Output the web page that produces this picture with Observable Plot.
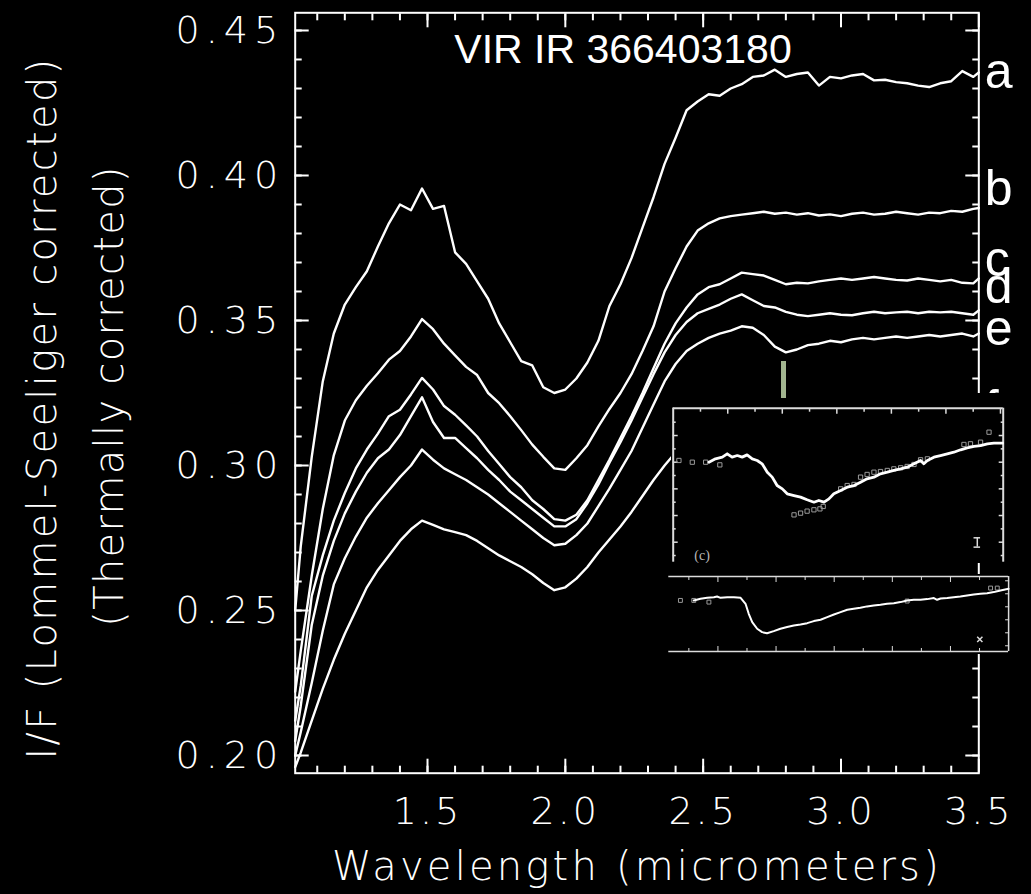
<!DOCTYPE html>
<html><head><meta charset="utf-8">
<script src="https://cdn.jsdelivr.net/npm/d3@7"></script>
<script src="https://cdn.jsdelivr.net/npm/@observablehq/plot@0.6"></script>
<style>
html,body{margin:0;padding:0;background:#000;}
#wrap{position:relative;width:1031px;height:894px;background:#000;overflow:hidden;}
#wrap > svg{position:absolute;}
[aria-label="y-axis tick label"]{letter-spacing:6px;font-weight:200;}
[aria-label="x-axis tick label"]{letter-spacing:3px;font-weight:200;}
#greenbar{position:absolute;left:781px;top:361px;width:5px;height:37px;background:#a2b58f;}
</style></head>
<body><div id="wrap"></div>
<script>
// ---------- main chart data ----------
const wavelength = [1.02,1.04,1.08,1.12,1.16,1.20,1.24,1.28,1.32,1.36,1.40,1.44,1.48,1.52,1.56,1.60,
  1.64,1.68,1.72,1.76,1.80,1.84,1.88,1.92,1.96,2.00,2.04,2.08,2.12,2.16,2.20,2.24,
  2.28,2.32,2.36,2.40,2.44,2.48,2.52,2.56,2.60,2.64,2.68,2.72,2.76,2.80,2.84,2.88,
  2.92,2.96,3.00,3.04,3.08,3.12,3.16,3.20,3.24,3.28,3.32,3.36,3.40,3.44,3.48,3.50];

const seriesA = [.250,.272,.303,.329,.3455,.3555,.3615,.3670,
  .3755,.3835,.3900,.3880,.3955,.3885,.3895,.3735,
  .3695,.3635,.3575,.3490,.3425,.3360,.3345,.3270,
  .3250,.3262,.3300,.3355,.3430,.3550,.3625,.3715,
  .3820,.3925,.4040,.4130,.4225,.4255,.4280,.4275,
  .4300,.4315,.4340,.4345,.4365,.4340,.4350,.4355,
  .4310,.4340,.4335,.4345,.4350,.4328,.4330,.4322,
  .4318,.4310,.4305,.4318,.4325,.4360,.4340,.4355];
const seriesB = [.222,.236,.262,.285,.3035,.3155,.3225,.3275,
  .3318,.3365,.3395,.3445,.3505,.3470,.3420,.3380,
  .3340,.3312,.3250,.3215,.3170,.3122,.3072,.3030,
  .2990,.2985,.3025,.3070,.3135,.3195,.3250,.3315,
  .3395,.3480,.3600,.3680,.3755,.3810,.3835,.3852,
  .3860,.3865,.3870,.3875,.3868,.3872,.3865,.3870,
  .3862,.3866,.3860,.3868,.3872,.3865,.3868,.3875,
  .3870,.3865,.3872,.3870,.3878,.3875,.3885,.3888];
const seriesC = [.212,.224,.255,.269,.281,.2905,.2990,.3055,
  .3110,.3170,.3192,.3245,.3302,.3262,.3205,.3175,
  .3138,.3100,.3050,.3005,.2960,.2925,.2880,.2850,
  .2815,.2810,.2830,.2880,.2950,.3020,.3095,.3170,
  .3250,.3335,.3420,.3490,.3545,.3590,.3615,.3625,
  .3645,.3665,.3660,.3655,.3640,.3625,.3630,.3628,
  .3635,.3640,.3645,.3640,.3645,.3650,.3645,.3640,
  .3638,.3645,.3640,.3635,.3640,.3630,.3628,.3645];
const seriesD = [.205,.217,.245,.262,.274,.2835,.2910,.2975,
  .3025,.3055,.3105,.3170,.3235,.3150,.3095,.3095,
  .3060,.3025,.2985,.2950,.2910,.2880,.2850,.2820,
  .2790,.2790,.2815,.2870,.2935,.3010,.3080,.3155,
  .3235,.3315,.3390,.3450,.3495,.3525,.3540,.3555,
  .3575,.3590,.3570,.3550,.3545,.3530,.3520,.3515,
  .3520,.3525,.3520,.3518,.3525,.3530,.3525,.3528,
  .3530,.3525,.3530,.3528,.3530,.3525,.3520,.3535];
const seriesE = [.200,.208,.225,.243,.259,.2680,.2755,.2820,
  .2870,.2915,.2960,.3000,.3055,.3020,.2990,.2970,
  .2950,.2925,.2900,.2870,.2840,.2810,.2780,.2750,
  .2725,.2730,.2760,.2800,.2860,.2920,.2985,.3050,
  .3130,.3210,.3290,.3350,.3395,.3420,.3440,.3455,
  .3465,.3480,.3475,.3450,.3410,.3390,.3400,.3415,
  .3420,.3430,.3425,.3435,.3440,.3435,.3440,.3445,
  .3440,.3445,.3450,.3445,.3450,.3455,.3445,.3455];
const seriesF = [.196,.201,.212,.223,.233,.2420,.2500,.2580,
  .2640,.2690,.2740,.2780,.2810,.2795,.2780,.2770,
  .2760,.2740,.2715,.2690,.2670,.2650,.2625,.2595,
  .2570,.2580,.2610,.2650,.2700,.2745,.2790,.2840,
  .2895,.2950,.3000,.3045,.3080,.3105,.3120,.3130,
  .3135,.3140,.3138,.3135,.3130,.3128,.3130,.3132,
  .3130,.3128,.3130,.3132,.3135,.3132,.3130,.3135,
  .3132,.3135,.3138,.3135,.3138,.3140,.3138,.3140];

const seriesNames = ["a","b","c","d","e","f"];
const seriesValues = [seriesA, seriesB, seriesC, seriesD, seriesE, seriesF];
const labelBaseline = [0.4303, 0.3897, 0.3655, 0.3559, 0.3414, 0.3141];

const xMajorTicks = [1.5, 2.0, 2.5, 3.0, 3.5];
const xTickLabels = ["1.5","2.0","2.5","3.0","3.5"];
const yMajorTicks = [0.20, 0.25, 0.30, 0.35, 0.40, 0.45];
const yTickLabels = ["0.20","0.25","0.30","0.35","0.40","0.45"];
const xMinorTicks = d3.range(11, 35).map(d => d / 10);
const yMinorTicks = d3.range(20, 46).map(d => d / 100);

const titleText = "VIR IR 366403180";
const xTitle = "Wavelength (micrometers)";
const yTitle1 = "I/F (Lommel-Seeliger corrected)";
const yTitle2 = "(Thermally corrected)";

// ---------- inset (pasted figure) data ----------
const insetTopCurveX = [1.31,1.55,1.80,1.98,2.16,2.35,2.53,2.71,2.90,3.08,3.26,3.45,3.63,3.81,4.00,4.18,4.43,4.67,4.91,5.16,5.34,5.53,5.71,5.89,6.14,6.38,6.63,6.87,7.11,7.36,7.60,7.85,8.09,8.34,8.58,8.83,9.07,9.19,9.32,9.56,9.80,10.05,10.29,10.54,10.78,11.03,11.27,11.52,11.76,12.07];
const insetTopCurveY = [8.0,8.25,8.38,8.63,8.38,8.5,8.38,8.55,8.25,8.13,7.88,7.25,6.88,6.25,6.0,5.63,5.5,5.38,5.18,5.0,5.13,5.0,5.25,5.63,5.88,6.13,6.25,6.5,6.75,6.88,7.13,7.25,7.38,7.5,7.63,7.88,8.13,7.88,8.13,8.38,8.5,8.63,8.75,8.93,9.08,9.18,9.25,9.38,9.43,9.43];
const insetTopPointsX = [0.21,0.70,1.19,1.71,4.43,4.67,4.91,5.16,5.38,5.50,6.14,6.38,6.63,6.87,7.11,7.36,7.60,7.85,8.09,8.34,8.58,8.83,9.07,9.32,10.66,10.90,11.27,11.58];
const insetTopPointsY = [8.13,8.0,8.0,7.8,4.05,4.18,4.33,4.43,4.5,4.68,6.0,6.25,6.33,6.88,7.08,7.25,7.3,7.38,7.5,7.58,7.68,7.83,8.18,8.25,9.33,9.38,9.5,10.25];
const insetBottomCurveX = [1.17,1.40,1.63,1.86,1.97,2.09,2.32,2.55,2.78,2.95,3.06,3.18,3.35,3.52,3.69,3.92,4.15,4.38,4.61,4.84,5.07,5.30,5.53,5.76,5.99,6.22,6.45,6.67,6.90,7.13,7.36,7.59,7.82,8.05,8.28,8.51,8.74,8.97,9.20,9.43,9.54,9.66,9.89,10.11,10.34,10.57,10.80,11.03,11.26,11.49,11.72,12.0];
const insetBottomCurveY = [4.49,4.62,4.69,4.74,4.79,4.69,4.74,4.74,4.69,4.23,3.46,2.82,2.31,2.05,1.97,2.13,2.31,2.44,2.56,2.64,2.74,2.90,3.0,3.21,3.41,3.59,3.77,3.85,3.92,4.03,4.10,4.15,4.23,4.28,4.36,4.49,4.54,4.54,4.59,4.67,4.54,4.64,4.67,4.74,4.79,4.87,4.95,5.0,5.05,5.13,5.26,5.38];
const insetBottomPointsX = [0.71,1.17,1.69,8.51,11.38,11.61];
const insetBottomPointsY = [4.49,4.49,4.36,4.44,5.44,5.44];

// ---------- build tables ----------
const table = seriesNames.flatMap((id, k) => wavelength.map((wl, i) => ({id, wl, v: seriesValues[k][i]})));
const labels = seriesNames.map((t, i) => ({t, y: labelBaseline[i]}));
const zip = (xs, ys) => xs.map((x, i) => ({x, y: ys[i]}));

const AX = "DejaVu Sans";
const W = "white";
const tk = (o) => ({label: null, tickFormat: () => "", ...o});

const main = Plot.plot({
  width: 1031, height: 894,
  marginLeft: 294.7, marginRight: 52.7, marginTop: 12.3, marginBottom: 121.3,
  x: {domain: [1.02, 3.5]},
  y: {domain: [0.1939, 0.4561]},
  style: {background: "black", color: "white", fontFamily: AX},
  marks: [
    Plot.line(table, {x: "wl", y: "v", z: "id", stroke: W, strokeWidth: 2.4, strokeLinejoin: "round"}),
    // ticks (inward)
    Plot.axisX(tk({anchor: "bottom", ticks: xMinorTicks, tickSize: -7, stroke: W, strokeWidth: 2})),
    Plot.axisX(tk({anchor: "bottom", ticks: xMajorTicks, tickSize: -14, stroke: W, strokeWidth: 2})),
    Plot.axisX(tk({anchor: "top", ticks: xMinorTicks, tickSize: -7, stroke: W, strokeWidth: 2})),
    Plot.axisX(tk({anchor: "top", ticks: xMajorTicks, tickSize: -14, stroke: W, strokeWidth: 2})),
    Plot.axisY(tk({anchor: "left", ticks: yMinorTicks, tickSize: -7, stroke: W, strokeWidth: 2})),
    Plot.axisY(tk({anchor: "left", ticks: yMajorTicks, tickSize: -14, stroke: W, strokeWidth: 2})),
    Plot.axisY(tk({anchor: "right", ticks: yMinorTicks, tickSize: -7, stroke: W, strokeWidth: 2})),
    Plot.axisY(tk({anchor: "right", ticks: yMajorTicks, tickSize: -14, stroke: W, strokeWidth: 2})),
    // tick labels
    Plot.axisX({anchor: "bottom", label: null, ticks: xMajorTicks, tickSize: 0, tickPadding: 24, fontSize: 38, fontFamily: AX,
      fill: W, tickFormat: d => xTickLabels[xMajorTicks.indexOf(d)]}),
    Plot.axisY({anchor: "left", label: null, ticks: yMajorTicks, tickSize: 0, tickPadding: 11, fontSize: 38, fontFamily: AX,
      fill: W, tickFormat: d => yTickLabels[yMajorTicks.indexOf(d)]}),
    Plot.frame({stroke: W, strokeWidth: 2}),
    // curve labels
    Plot.text(labels, {text: "t", y: "y", frameAnchor: "right", textAnchor: "start", lineAnchor: "bottom",
      dx: 6, fontSize: 50, fontFamily: "Liberation Sans", fill: W}),
    // title & axis titles
    Plot.text([titleText], {frameAnchor: "top", lineAnchor: "bottom", dx: -14, dy: 50, fontSize: 41,
      fontFamily: "Liberation Sans", fill: W}),
    Plot.text([xTitle], {frameAnchor: "bottom", textAnchor: "middle", lineAnchor: "bottom", dx: 0, dy: 107, fontSize: 40,
      fontFamily: AX, fill: W}),
    Plot.text([yTitle1], {frameAnchor: "left", rotate: -90, textAnchor: "middle", lineAnchor: "middle", dx: -251.7, dy: 15,
      fontSize: 40, fontFamily: AX, fill: W}),
    Plot.text([yTitle2], {frameAnchor: "left", rotate: -90, textAnchor: "middle", lineAnchor: "middle", dx: -184.7, dy: 3,
      fontSize: 40, fontFamily: AX, fill: W})
  ]
});

// spacing of the wide plotter-style titles
const spacing = new Map([[xTitle, "3.2px"], [yTitle1, "2.3px"], [yTitle2, "1.3px"]]);
d3.select(main).selectAll("text").each(function() {
  const s = spacing.get(this.textContent);
  if (s) d3.select(this).style("letter-spacing", s).style("font-weight", "200");
});

const G = "#dcdcdc";
const inset1 = Plot.plot({
  width: 334, height: 170,
  marginLeft: 1.7, marginRight: 2.3, marginTop: 14.7, marginBottom: 1.3,
  x: {domain: [0, 12.1]}, y: {domain: [0.5, 12.05]},
  style: {background: "black", color: G},
  marks: [
    Plot.ruleY([12.05], {stroke: G, strokeWidth: 2}),
    Plot.ruleX([0, 12.1], {stroke: G, strokeWidth: 2}),
    Plot.axisX(tk({anchor: "top", ticks: [1,3,5,7,9,11], tickSize: -3, stroke: G, strokeWidth: 1.5})),
    Plot.axisX(tk({anchor: "top", ticks: [2,4,6,8,10,12], tickSize: -5, stroke: G, strokeWidth: 1.5})),
    Plot.axisY(tk({anchor: "left", ticks: [1,3,5,7,9,11], tickSize: -3, stroke: G, strokeWidth: 1.5})),
    Plot.axisY(tk({anchor: "left", ticks: [2,4,6,8,10], tickSize: -5, stroke: G, strokeWidth: 1.5})),
    Plot.axisY(tk({anchor: "right", ticks: [1,3,5,7,9,11], tickSize: -3, stroke: G, strokeWidth: 1.5})),
    Plot.axisY(tk({anchor: "right", ticks: [2,4,6,8,10], tickSize: -5, stroke: G, strokeWidth: 1.5})),
    Plot.dot(zip(insetTopPointsX, insetTopPointsY), {x: "x", y: "y", symbol: "square", r: 2.4, stroke: "#9a9a9a", fill: "none", strokeWidth: 1}),
    Plot.line(zip(insetTopCurveX, insetTopCurveY), {x: "x", y: "y", stroke: "white", strokeWidth: 2.8}),
    Plot.ruleX([{x: 11.15, y1: 1.63, y2: 2.33}], {x: "x", y1: "y1", y2: "y2", stroke: G, strokeWidth: 1.5}),
    Plot.ruleY([{y: 1.63}, {y: 2.33}], {y: "y", x1: 11.03, x2: 11.27, stroke: G, strokeWidth: 1.5}),
    Plot.text(["(c)"], {x: 1.06, y: 1.0, fontSize: 14, fontFamily: "Liberation Serif", fill: "#b8b8b8"})
  ]
});

const inset2 = Plot.plot({
  width: 344, height: 80,
  marginLeft: 2.3, marginRight: 1.9, marginTop: 2, marginBottom: 3,
  x: {domain: [0.31, 12.0]}, y: {domain: [0.56, 6.33]},
  style: {background: "black", color: G},
  marks: [
    Plot.ruleY([0.56, 6.33], {stroke: G, strokeWidth: 1.5}),
    Plot.ruleX([12.0], {stroke: G, strokeWidth: 1.5}),
    Plot.axisX(tk({anchor: "top", ticks: [1,3,5,7,9,11], tickSize: -3, stroke: G})),
    Plot.axisX(tk({anchor: "top", ticks: [2,4,6,8,10], tickSize: -5, stroke: G})),
    Plot.axisX(tk({anchor: "bottom", ticks: [1,3,5,7,9,11], tickSize: -3, stroke: G})),
    Plot.axisX(tk({anchor: "bottom", ticks: [2,4,6,8,10], tickSize: -5, stroke: G})),
    Plot.axisY(tk({anchor: "right", ticks: [1,2,3,4,5,6], tickSize: -4, stroke: G})),
    Plot.dot(zip(insetBottomPointsX, insetBottomPointsY), {x: "x", y: "y", symbol: "square", r: 2.2, stroke: "#9a9a9a", fill: "none", strokeWidth: 1}),
    Plot.line(zip(insetBottomCurveX, insetBottomCurveY), {x: "x", y: "y", stroke: "white", strokeWidth: 2}),
    Plot.dot([{x: 11.01, y: 1.49}], {x: "x", y: "y", symbol: "times", r: 2.5, stroke: G, strokeWidth: 1.5})
  ]
});

const wrap = document.getElementById("wrap");
main.style.left = "0px"; main.style.top = "0px";
inset1.style.left = "671px"; inset1.style.top = "393px";
inset2.style.left = "666px"; inset2.style.top = "574px";
wrap.appendChild(main);
wrap.appendChild(inset1);
wrap.appendChild(inset2);
const bar = document.createElement("div"); bar.id = "greenbar"; wrap.appendChild(bar);
</script>
</body></html>
